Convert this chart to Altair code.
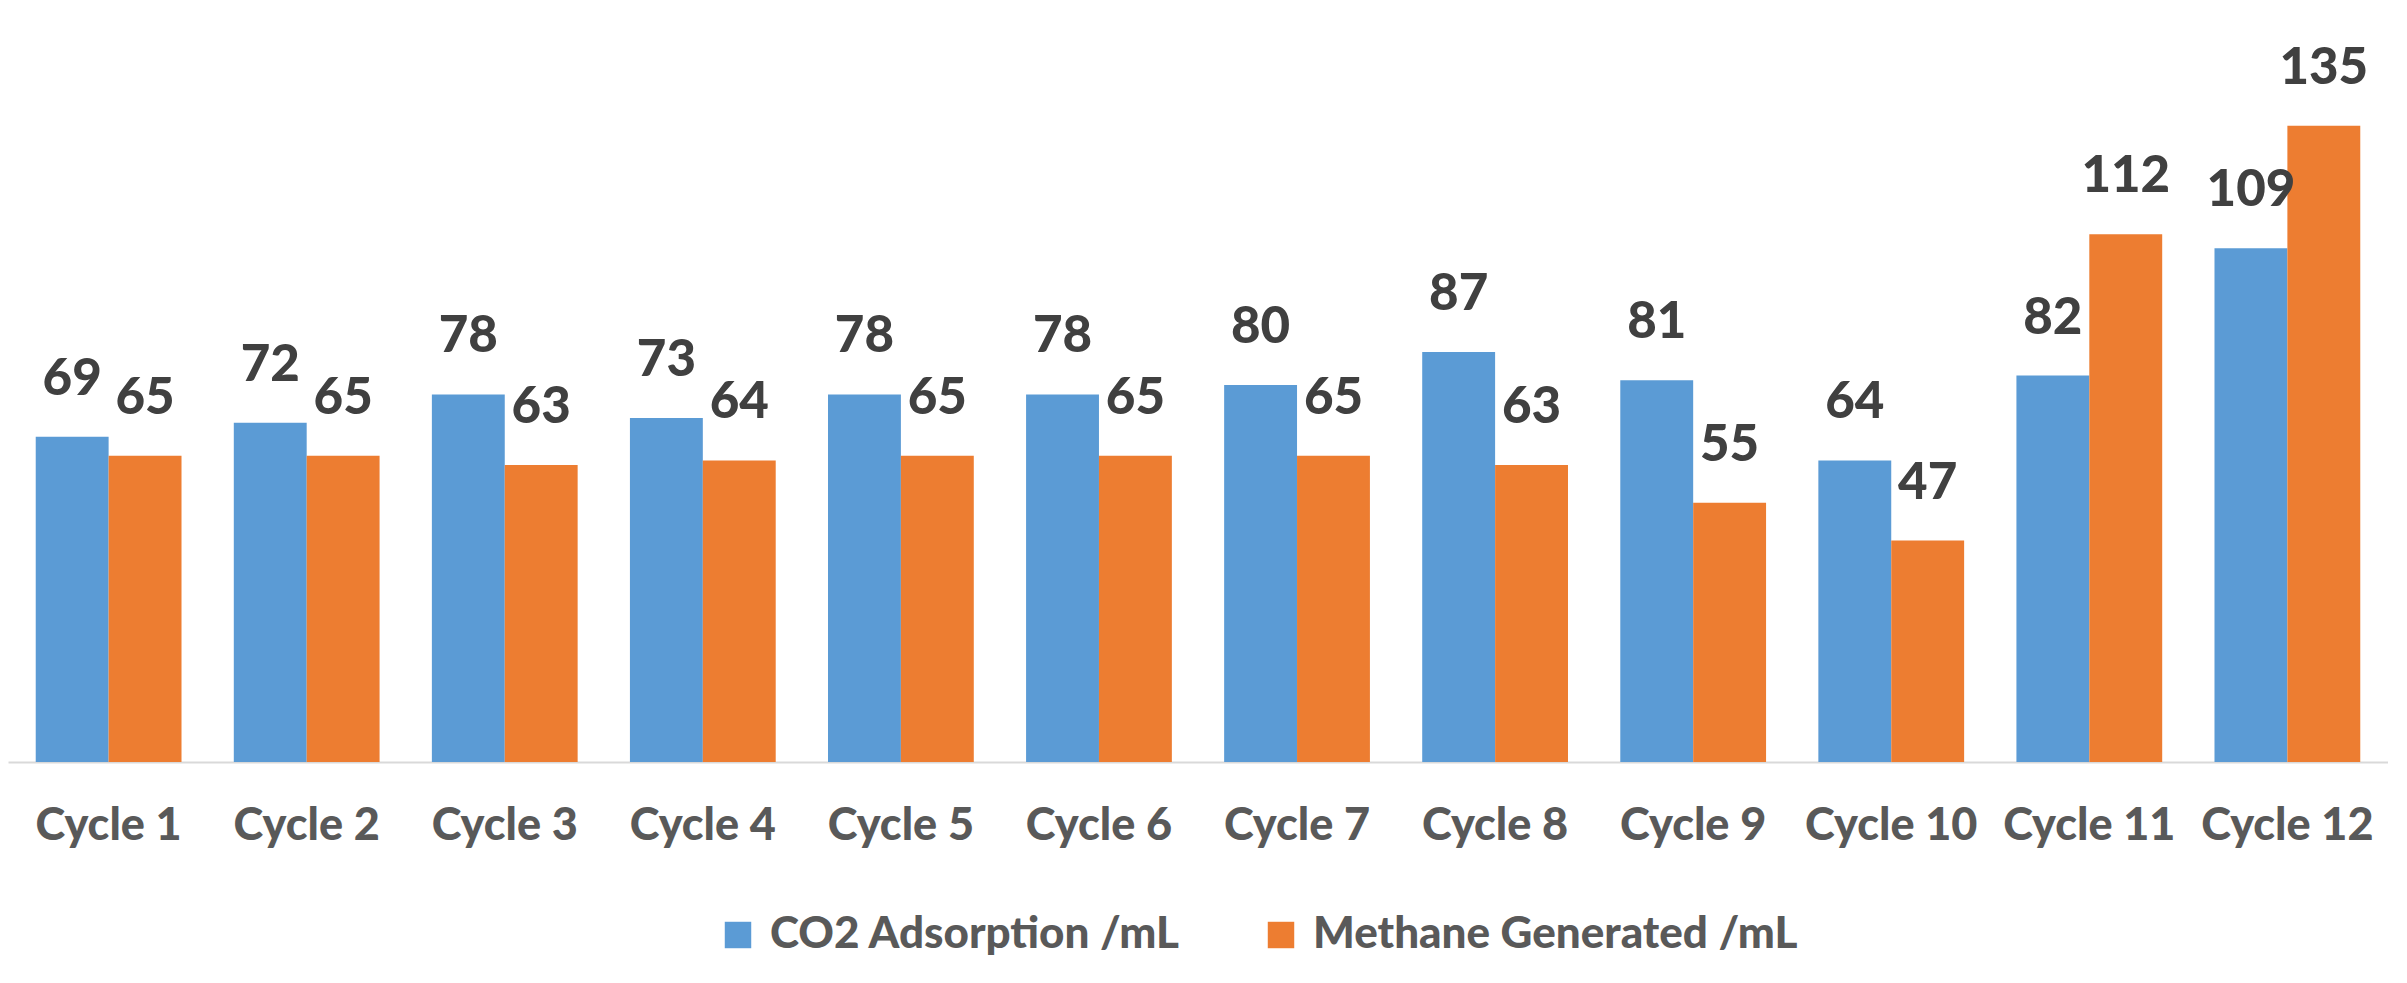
import altair as alt
import pandas as pd

cycles = [f"Cycle {i}" for i in range(1, 13)]
co2 = [69, 72, 78, 73, 78, 78, 80, 87, 81, 64, 82, 109]
methane = [65, 65, 63, 64, 65, 65, 65, 63, 55, 47, 112, 135]
series = ["CO2 Adsorption /mL", "Methane Generated /mL"]
colors = ["#5B9BD5", "#ED7D31"]

rows = []
for c, a, b in zip(cycles, co2, methane):
    rows.append({"cycle": c, "series": series[0], "value": a})
    rows.append({"cycle": c, "series": series[1], "value": b})
df = pd.DataFrame(rows)

FONT = "Lato"
W = 900

x = alt.X("cycle:N", sort=cycles, title=None,
          scale=alt.Scale(paddingInner=0.264, paddingOuter=0.14),
          axis=alt.Axis(labelAngle=0, labelFont=FONT, labelFontSize=45,
                        labelFontWeight=W, labelColor="#595959",
                        labelPadding=41, ticks=False, tickSize=0,
                        domainColor="#D9D9D9", domainWidth=2, grid=False))
xo = alt.XOffset("series:N", sort=series,
                 scale=alt.Scale(paddingInner=0, paddingOuter=0))
y = alt.Y("value:Q", scale=alt.Scale(domain=[0, 160], nice=False, zero=True),
          axis=None)

bars = alt.Chart(df).mark_bar().encode(
    x=x, xOffset=xo, y=y,
    color=alt.Color("series:N", sort=series,
                    scale=alt.Scale(domain=series, range=colors),
                    legend=alt.Legend(title=None, orient="none",
                                      direction="horizontal",
                                      legendX=708, legendY=905,
                                      symbolType="square", symbolSize=700,
                                      symbolStrokeWidth=0,
                                      labelFont=FONT, labelFontSize=44,
                                      labelFontWeight=W,
                                      labelColor="#595959",
                                      labelOffset=10, labelLimit=1000,
                                      columnPadding=78)),
)

labels = alt.Chart(df).mark_text(
    font=FONT, fontSize=51, fontWeight=W, color="#404040",
    baseline="alphabetic", dy=-42,
).encode(x=x, xOffset=xo, y=y, text="value:Q")

chart = (bars + labels).properties(
    width=2380, height=754, padding=0, background="white"
).configure_view(stroke=None)

chart.save("out.html", embed_options={"renderer": "svg", "actions": False})
